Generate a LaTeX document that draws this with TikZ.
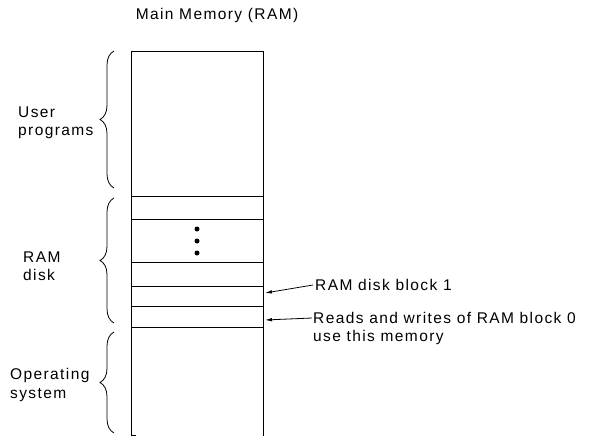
\documentclass[tikz,border=0pt]{standalone}
\usepackage{fontspec}
\setmainfont[LetterSpace=9]{Liberation Sans}
\usetikzlibrary{arrows.meta,decorations.pathreplacing}
\tikzset{
  lbl/.style={inner sep=0pt, align=left, font=\fontsize{15.5}{18.5}\selectfont},
  memline/.style={line width=0.9pt},
  bracestyle/.style={line width=0.8pt, decorate, decoration={brace, amplitude=14pt}},
  ptr/.style={line width=0.8pt, -{Latex[length=7pt,width=3.5pt]}},
  dotmark/.style={circle, fill=black, inner sep=0pt, minimum size=5pt}
}
\begin{document}
\begin{tikzpicture}[x=1pt,y=-1pt]
\useasboundingbox (0,0) rectangle (593,436);
% memory column
\coordinate (tl) at (131,51);
\coordinate (tr) at (263,51);
\coordinate (bl) at (131,436);
\coordinate (br) at (263,436);
\draw[memline] (bl) -- (tl) -- (tr) -- (br);
\foreach \yy in {196,219,262,286,306,327}
  \draw[memline] (131,\yy) -- (263,\yy);
\draw[memline] (131,435) -- (136,435);
% dots
\node[dotmark] (d1) at (197,229) {};
\node[dotmark] (d2) at (197,241) {};
\node[dotmark] (d3) at (197,253) {};
% title
\node[lbl] (title) at (217,15) {Main Memory (RAM)};
% braces
\draw[bracestyle] (114,188) -- (114,51);
\draw[bracestyle] (114,323) -- (114,198);
\draw[bracestyle] (114,433) -- (114,332);
% brace labels
\node[lbl, anchor=west] (user) at (18,123) {User\\programs};
\node[lbl, anchor=west] (ramdisk) at (23,266) {RAM\\disk};
\node[lbl, anchor=west] (os) at (10,385) {Operating\\system};
% pointers
\node[lbl, anchor=west] (blk1) at (315,285) {RAM disk block 1};
\node[lbl, anchor=north west] (rw) at (313,312) {Reads and writes of RAM block 0\\use this memory};
\coordinate (t1) at (265,293);
\coordinate (t2) at (265,320);
\draw[ptr] ([xshift=-2pt]blk1.west) -- (t1);
\draw[ptr] ([xshift=-1pt,yshift=-6pt]rw.north west) -- (t2);
\end{tikzpicture}
\end{document}
